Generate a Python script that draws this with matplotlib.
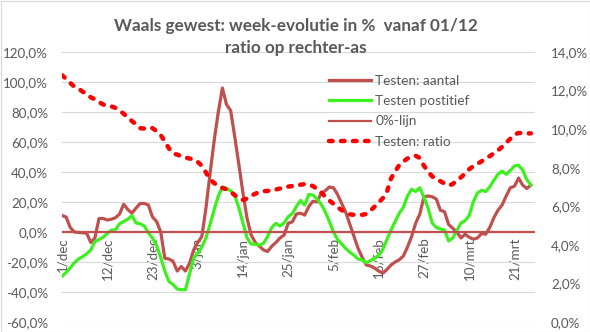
import numpy as np
import matplotlib.pyplot as plt
from matplotlib.patches import Rectangle

# week-evolutie in % per dag, vanaf 1/dec (linker-as)
testen_aantal = [
    11, 10, 3, 0, -0.3, -0.5, -0.8, -7, -4, 9,
    9, 8, 8.5, 9.5, 12, 18.5, 15, 12.5, 16, 19,
    19, 18, 10, 7, 0, -17.5, -18, -19.5, -26, -23,
    -26, -21, -12, -7, -3, 16, 39, 61, 80, 96,
    85, 81, 63.5, 45, 26, 9, -2, -7, -9.5, -12,
    -13, -9.5, -7, -4, -2, 5.8, 6.8, 12, 12.5, 11.3,
    17, 20.5, 20, 25.8, 27.5, 30, 29.5, 25, 19, 13,
    5, -3, -11, -17, -22, -22.7, -24, -26, -27.5, -25,
    -22, -20, -18.5, -16, -10, -3, 6, 12, 23.5, 24,
    23.5, 22, 14.5, 13.5, 5, 2.5, 0, -4, -1.5, -3.5,
    -4.8, -4, -1, -1.5, 3, 9.5, 14.5, 18, 24, 29.5,
    30.5, 36, 31.3, 29, 31.3,
]
testen_positief = [
    -29.5, -27, -24, -20.5, -18, -16.5, -14.5, -12, -6.4, -5,
    -3.5, -1, 1.3, 1.5, 5.5, 7, 8.5, 11, 6, 5.5,
    4, -0.5, -4, -9, -17, -26, -33, -35, -38, -38.5,
    -38.5, -28, -17.5, -14, -10, -4, 5, 15, 24, 30,
    29, 27.5, 24.7, 16, 6, -4, -8, -8.2, -8.7, -7.5,
    -3, 3, 5.8, 4, 6, 10.2, 12.3, 17, 21, 18,
    25, 24.7, 22, 18.5, 13.5, 7, 0, -5, -8, -11,
    -13.5, -15.5, -18, -18.7, -20.5, -19, -17.5, -15.5, -11.5, -5,
    1.3, 7, 12.5, 16.5, 24, 28.5, 27, 29.5, 23, 16,
    6, 3, 2, 1.3, -6, -4, 1, 6, 7.5, 11,
    20, 26, 27.8, 27, 30, 34.5, 38.5, 40.5, 38.5, 41,
    44, 44.5, 41.3, 35, 31.3,
]
# ratio positief / aantal in % (rechter-as)
testen_ratio = [
    12.8, 12.6, 12.4, 12.2, 12.1, 11.95, 11.8, 11.65, 11.55, 11.4,
    11.28, 11.2, 11.18, 11.1, 10.95, 10.8, 10.6, 10.42, 10.25, 10.05,
    10.03, 10.08, 10.05, 9.9, 9.7, 9.35, 9.0, 8.74, 8.68, 8.6,
    8.52, 8.48, 8.43, 8.3, 8.1, 7.75, 7.4, 7.2, 7.05, 6.95,
    6.88, 6.75, 6.58, 6.42, 6.33, 6.4, 6.55, 6.65, 6.75, 6.78,
    6.8, 6.82, 6.87, 6.92, 6.97, 7.02, 7.05, 7.08, 7.12, 7.15,
    7.12, 7.05, 6.9, 6.72, 6.5, 6.3, 6.13, 5.95, 5.8, 5.68,
    5.58, 5.56, 5.55, 5.56, 5.6, 5.78, 5.98, 6.2, 6.42, 6.75,
    7.45, 7.8, 8.14, 8.32, 8.48, 8.56, 8.62, 8.5, 8.1, 7.8,
    7.55, 7.42, 7.3, 7.18, 7.08, 7.15, 7.35, 7.5, 7.7, 7.92,
    8.08, 8.2, 8.33, 8.48, 8.6, 8.75, 8.9, 9.08, 9.3, 9.5,
    9.72, 9.8, 9.8, 9.78, 9.78,
]
nul_lijn = 0.0

tick_dagen = [0, 11, 22, 33, 44, 55, 66, 77, 88, 99, 110]
tick_labels = ['1/dec', '12/dec', '23/dec', '3/jan', '14/jan', '25/jan',
               '5/feb', '16/feb', '27/feb', '10/mrt', '21/mrt']
links_ticks = [-60, -40, -20, 0, 20, 40, 60, 80, 100, 120]
rechts_ticks = [0, 2, 4, 6, 8, 10, 12, 14]

grijs = '#595959'
bruin = '#c0504d'
groen = '#3cf01e'
rood = '#ff0000'

plt.rcParams['font.family'] = ['Lato', 'DejaVu Sans']

W, H = 590, 332
fig = plt.figure(figsize=(W / 100, H / 100), dpi=100)
ax = fig.add_axes([62 / W, 1 - 322 / H, (535 - 62) / W, (322 - 52) / H])
ax2 = ax.twinx()

dagen = np.arange(len(testen_aantal))
l1, = ax.plot(dagen, testen_aantal, color=bruin, lw=2.3, label='Testen: aantal')
l2, = ax.plot(dagen, testen_positief, color=groen, lw=2.3, label='Testen postitief')
l3 = ax.axhline(nul_lijn, color=bruin, lw=1.6, label='0%-lijn')
l4, = ax2.plot(dagen, testen_ratio, color=rood, lw=3.2, dashes=(0.8, 1.9),
               dash_capstyle='round', label='Testen: ratio')

ax.set_xlim(0, 115)
ax.set_ylim(-60, 120)
ax2.set_ylim(0, 14)

ax.set_yticks(links_ticks)
ax.set_yticklabels([f'{v:.1f}%'.replace('.', ',') for v in links_ticks])
ax2.set_yticks(rechts_ticks)
ax2.set_yticklabels([f'{v:.1f}%'.replace('.', ',') for v in rechts_ticks])
ax.set_xticks(tick_dagen)
ax.set_xticklabels(tick_labels)

ax.spines['bottom'].set_position(('data', 0))
for a in (ax, ax2):
    for s in a.spines.values():
        s.set_visible(False)
ax.grid(axis='y', color='#d9d9d9', lw=0.8)
ax.set_axisbelow(True)

ax.tick_params(axis='y', length=0, pad=10, labelsize=9.6, labelcolor=grijs)
ax2.tick_params(axis='y', length=0, pad=11.5, labelsize=9.6, labelcolor=grijs)
ax.tick_params(axis='x', length=0, pad=4, labelsize=9.6, labelcolor=grijs,
               labelrotation=90)

fig.legend(handles=[l1, l2, l3, l4], loc='upper left',
           bbox_to_anchor=(329 / W, 1 - 75 / H), frameon=False,
           fontsize=9.8, labelcolor=grijs, handlelength=3.1,
           handletextpad=0.3, labelspacing=0.6, borderpad=0,
           borderaxespad=0)

fig.text(296 / W, 1 - 30.5 / H, 'Waals gewest: week-evolutie in %  vanaf 01/12',
         ha='center', va='baseline', fontsize=12.3, fontweight='bold', color=grijs)
fig.text(296 / W, 1 - 52.5 / H, 'ratio op rechter-as',
         ha='center', va='baseline', fontsize=12.3, fontweight='bold', color=grijs)

fig.patches.append(Rectangle((0.5 / W, 0.5 / H), 1 - 1 / W, 1 - 1 / H,
                             transform=fig.transFigure, fill=False,
                             edgecolor='#d9d9d9', lw=0.8))

fig.savefig('out.png', dpi=100)
